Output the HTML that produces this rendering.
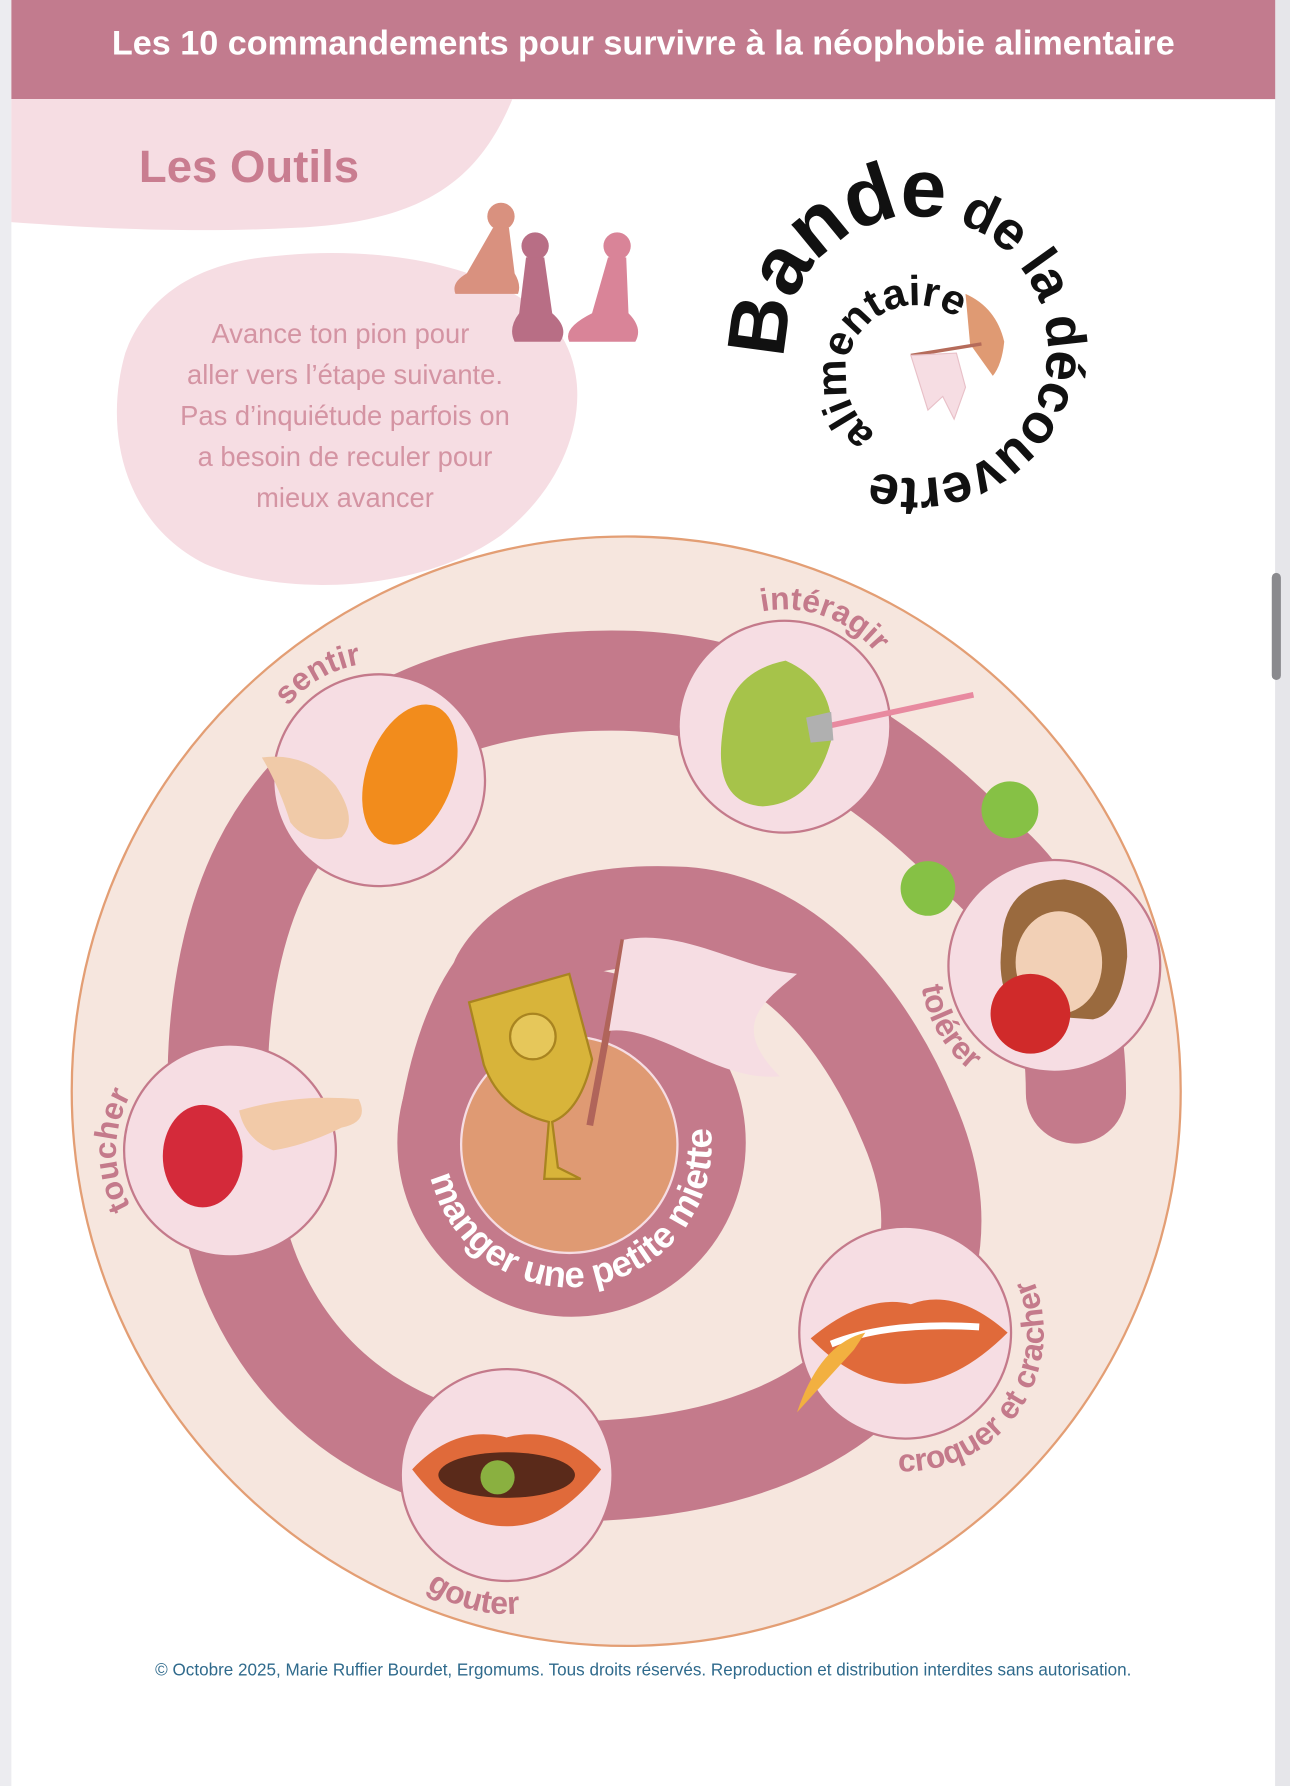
<!DOCTYPE html>
<html><head><meta charset="utf-8"><style>
html,body{margin:0;padding:0;background:#ececf0;}
svg{display:block;}
text{font-family:"Liberation Sans","DejaVu Sans",sans-serif;}
</style></head><body>
<svg width="1290" height="1786" viewBox="0 0 1133 1568" preserveAspectRatio="none" xmlns="http://www.w3.org/2000/svg">
<rect x="0" y="0" width="1133" height="1568" fill="#ececf0"/>
<rect x="10" y="0" width="1110" height="1568" fill="#ffffff"/>
<rect x="1120" y="0" width="13" height="1568" fill="#e6e6ea"/>
<rect x="1117" y="503" width="8" height="94" rx="4" fill="#8a8a8e"/>
<rect x="10" y="0" width="1110" height="87" fill="#c27b8e"/>
<text x="565" y="48" text-anchor="middle" font-size="30" font-weight="bold" fill="#ffffff">Les 10 commandements pour survivre à la néophobie alimentaire</text>
<path d="M10,87 L450,87 C420,160 370,195 260,200 C160,205 80,200 10,195 Z" fill="#f6dde3"/>
<text x="122" y="160" font-size="40" font-weight="bold" fill="#c97d90">Les Outils</text>
<path d="M240,225 C330,215 440,230 490,290 C525,340 505,420 440,470 C370,520 250,525 180,495 C110,460 90,380 110,310 C130,255 180,230 240,225 Z" fill="#f6dde3"/>
<g font-size="24" fill="#d494a3" text-anchor="middle">
<text x="299" y="301">Avance ton pion pour</text>
<text x="303" y="337">aller vers l’étape suivante.</text>
<text x="303" y="373">Pas d’inquiétude parfois on</text>
<text x="303" y="409">a besoin de reculer pour</text>
<text x="303" y="445">mieux avancer</text>
</g>
<g>
<circle cx="440" cy="190" r="12" fill="#d9917f"/>
<path d="M433,200 L447,200 L452,240 Q458,250 455,258 L400,258 Q396,248 410,240 Z" fill="#d9917f"/>
<circle cx="470" cy="216" r="12" fill="#b86e85"/>
<path d="M462,226 L478,226 L485,275 Q500,288 492,300 L452,300 Q446,288 456,275 Z" fill="#b86e85"/>
<circle cx="542" cy="216" r="12" fill="#d98498"/>
<path d="M534,226 L550,226 L552,275 Q565,288 558,300 L500,300 Q494,288 520,275 Z" fill="#d98498"/>
</g>
<defs>
<path id="lo" d="M690.4,315 A115,115 0 1 1 919.6,295 A115,115 0 1 1 690.4,315"/>
<path id="li" d="M769.4,380.8 A62,62 0 1 1 840.6,279.2 A62,62 0 1 1 769.4,380.8"/>
<path id="p_sentir" d="M230,685 A103,103 0 0 1 384.5,595.8"/>
<path id="p_inter" d="M610.1,571.8 A103,103 0 0 1 792,638"/>
<path id="p_tol" d="M823.8,789 A118,118 0 0 0 926,966"/>
<path id="p_touch" d="M152,1096.6 A100,100 0 0 1 152,923.4"/>
<path id="p_croq" d="M716.6,1263.5 A122,122 0 1 0 856,1064.3"/>
<path id="p_gout" d="M324.9,1316.2 A122,122 0 0 0 538.5,1373.4"/>
<path id="p_mang" d="M375.5,994.1 A125,125 0 1 0 613.3,952.2"/>
</defs>
<path d="M848,258 Q875,270 882,300 Q880,320 872,330 L852,302 Z" fill="#df9a73"/>
<line x1="800" y1="312" x2="862" y2="302" stroke="#b56b5a" stroke-width="3"/>
<path d="M800,312 L840,310 L848,340 L838,368 L828,348 L815,360 Z" fill="#f6dde3" stroke="#e8c0c8"/>
<text font-size="48" font-weight="bold" fill="#111" letter-spacing="-1"><textPath href="#lo"><tspan font-size="72">Bande</tspan> de la découverte</textPath></text>
<text font-size="37" font-weight="bold" fill="#111"><textPath href="#li">alimentaire</textPath></text>
<circle cx="550" cy="958" r="487" fill="#f6e6de" stroke="#e39e74" stroke-width="2"/>
<path d="M945,960 C945,880 920,800 860,752 C800,690 700,605 560,598 C420,592 290,640 230,760 C180,860 180,1020 220,1120 C270,1240 380,1295 500,1292 C640,1290 740,1250 790,1170 C830,1100 822,1040 798,985 C765,905 700,812 600,805 C510,800 460,825 440,860" fill="none" stroke="#c47a8b" stroke-width="88" stroke-linecap="round"/>
<path d="M410,830 Q368,880 352,975 L430,975 L470,850 Z" fill="#c47a8b"/>
<circle cx="502" cy="1003" r="123" fill="none" stroke="#c47a8b" stroke-width="60"/>
<circle cx="500" cy="1005" r="95" fill="#df9a73" stroke="#f6dde3" stroke-width="2"/>
<text font-size="32" font-weight="bold" fill="#ffffff" text-anchor="middle"><textPath href="#p_mang" startOffset="50%">manger une petite miette</textPath></text>
<line x1="548" y1="825" x2="518" y2="988" stroke="#b0645a" stroke-width="6"/>
<path d="M548,825 C600,815 650,850 700,855 C670,880 640,900 685,945 C630,950 580,900 535,905 Z" fill="#f6dde3"/>
<path d="M412,880 L500,855 L520,930 Q510,975 485,985 L490,1025 L510,1035 L478,1035 L482,985 Q440,975 425,935 Z" fill="#d8b43a" stroke="#a98420" stroke-width="2"/>
<circle cx="468" cy="910" r="20" fill="#e6c75a" stroke="#a98420" stroke-width="2"/>
<g fill="#f6dde3" stroke="#c47a8b" stroke-width="2">
<circle cx="333" cy="685" r="93"/>
<circle cx="689" cy="638" r="93"/>
<circle cx="926" cy="848" r="93"/>
<circle cx="202" cy="1010" r="93"/>
<circle cx="795" cy="1170" r="93"/>
<circle cx="445" cy="1295" r="93"/>
</g>
<path d="M230,665 Q270,660 295,690 Q315,720 300,735 Q270,742 255,722 Q245,690 230,665 Z" fill="#f0caa8"/>
<ellipse cx="360" cy="680" rx="38" ry="64" transform="rotate(20 360 680)" fill="#f28c1c"/>
<path d="M635,640 Q640,590 690,580 Q735,600 730,650 Q715,705 670,708 Q625,705 635,640 Z" fill="#a6c34a"/>
<line x1="715" y1="640" x2="855" y2="610" stroke="#e88aa0" stroke-width="5"/>
<path d="M708,630 L730,625 L732,650 L712,652 Z" fill="#b0b0b0"/>
<circle cx="887" cy="711" r="25" fill="#86c145"/>
<circle cx="815" cy="780" r="24" fill="#86c145"/>
<path d="M880,830 Q880,775 935,772 Q990,780 990,840 Q985,890 960,895 L890,890 Q875,860 880,830 Z" fill="#9a6a3e"/>
<ellipse cx="930" cy="845" rx="38" ry="45" fill="#f2d0b6"/>
<circle cx="905" cy="890" r="35" fill="#d02a2a"/>
<ellipse cx="178" cy="1015" rx="35" ry="45" fill="#d42a3a"/>
<path d="M210,975 Q260,960 315,965 Q325,985 300,990 Q270,1005 240,1010 Q215,1000 210,975 Z" fill="#f2caa8"/>
<path d="M712,1175 Q760,1135 800,1145 Q840,1130 885,1170 Q840,1215 795,1215 Q750,1215 712,1175 Z" fill="#e06a3a"/>
<path d="M730,1180 Q780,1160 860,1165" stroke="#fff" stroke-width="6" fill="none"/>
<path d="M700,1240 Q720,1180 760,1170 L750,1185 Z" fill="#f2b040"/>
<path d="M362,1290 Q400,1250 445,1262 Q490,1250 528,1290 Q490,1340 445,1340 Q400,1340 362,1290 Z" fill="#e06a3a"/>
<ellipse cx="445" cy="1295" rx="60" ry="20" fill="#5a2a1a"/>
<circle cx="437" cy="1297" r="15" fill="#8ab040"/>
<g font-size="28" font-weight="bold" fill="#c47a8b" text-anchor="middle">
<text><textPath href="#p_sentir" startOffset="50%">sentir</textPath></text>
<text><textPath href="#p_inter" startOffset="50%">intéragir</textPath></text>
<text><textPath href="#p_tol" startOffset="50%">tolérer</textPath></text>
<text><textPath href="#p_touch" startOffset="50%">toucher</textPath></text>
<text><textPath href="#p_croq" startOffset="50%">croquer et cracher</textPath></text>
<text><textPath href="#p_gout" startOffset="50%">gouter</textPath></text>
</g>
<text x="565" y="1471" text-anchor="middle" font-size="15" fill="#2f6a8c">© Octobre 2025, Marie Ruffier Bourdet, Ergomums. Tous droits réservés. Reproduction et distribution interdites sans autorisation.</text>
</svg>
</body></html>
